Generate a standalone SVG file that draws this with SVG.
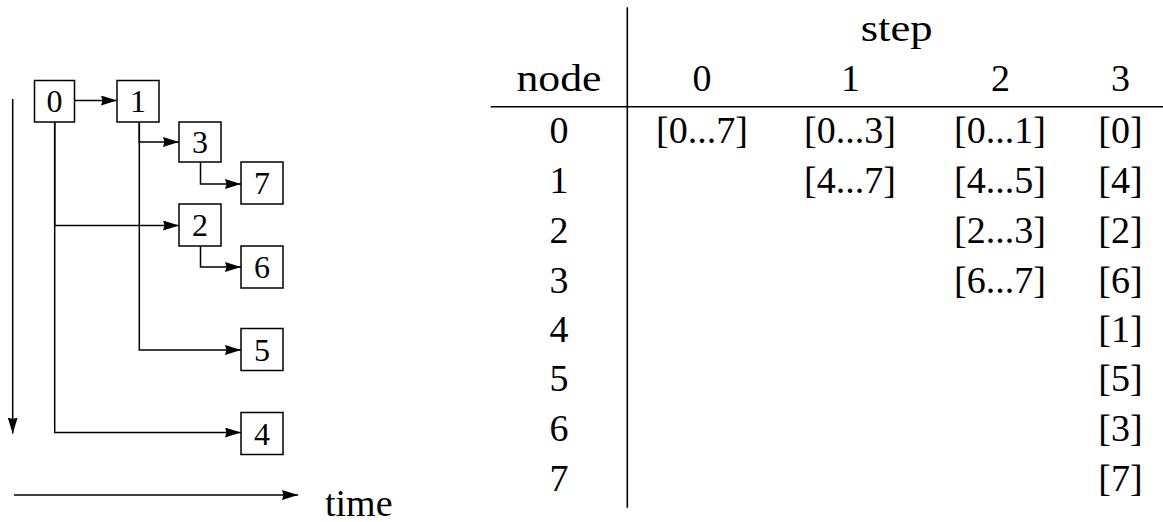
<svg xmlns="http://www.w3.org/2000/svg" width="1163" height="522" viewBox="0 0 1163 522">
<style>
.box{fill:#fff;stroke:#000;stroke-width:1.5}
.lbl{font-family:"Liberation Serif","Times New Roman",serif;font-size:32px;fill:#000;text-anchor:middle}
.conn{fill:none;stroke:#000;stroke-width:1.5}
.rule{stroke:#000;stroke-width:1.6;fill:none}
.t{font-family:"Liberation Serif","Times New Roman",serif;font-size:38px;fill:#000;text-anchor:middle}
</style>
<defs>
<marker id="ah" markerUnits="userSpaceOnUse" markerWidth="17" markerHeight="11" refX="16" refY="5" orient="auto">
<path d="M0,0 L16,5 L0,10 L1.5,5 z" fill="#000"/>
</marker>
</defs>
<g id="connectors">
<path class="conn" d="M74.5,100.5 H117" marker-end="url(#ah)"/>
<path class="conn" d="M139.3,122 V142 H179" marker-end="url(#ah)"/>
<path class="conn" d="M139.3,122 V350 H241" marker-end="url(#ah)"/>
<path class="conn" d="M200.5,162 V184 H241" marker-end="url(#ah)"/>
<path class="conn" d="M54.7,122 V225.5 H179" marker-end="url(#ah)"/>
<path class="conn" d="M54.7,122 V432.5 H241" marker-end="url(#ah)"/>
<path class="conn" d="M200.5,246 V267 H241" marker-end="url(#ah)"/>
</g>
<g id="axes">
<path class="conn" d="M12.7,99 V433.5" marker-end="url(#ah)"/>
<path class="conn" d="M14,495 H298" marker-end="url(#ah)"/>
<text x="325" y="515.5" class="t" style="text-anchor:start">time</text>
</g>
<g id="n0"><rect class="box" x="34.5" y="80.5" width="40" height="41.5"/><text class="lbl" x="54.5" y="111.5">0</text></g>
<g id="n1"><rect class="box" x="117" y="80.5" width="42" height="41.5"/><text class="lbl" x="138" y="111.5">1</text></g>
<g id="n3"><rect class="box" x="179" y="122" width="42" height="40"/><text class="lbl" x="200" y="152.5">3</text></g>
<g id="n7"><rect class="box" x="241" y="162" width="42" height="42"/><text class="lbl" x="262" y="194">7</text></g>
<g id="n2"><rect class="box" x="179" y="204" width="42" height="42"/><text class="lbl" x="200" y="236">2</text></g>
<g id="n6"><rect class="box" x="241" y="246" width="42" height="42"/><text class="lbl" x="262" y="278">6</text></g>
<g id="n5"><rect class="box" x="241" y="328.5" width="42" height="42"/><text class="lbl" x="262" y="360.5">5</text></g>
<g id="n4"><rect class="box" x="241" y="412.5" width="42" height="42"/><text class="lbl" x="262" y="444.5">4</text></g>
<g id="table">
<line class="rule" x1="627.3" y1="7.3" x2="627.3" y2="507.7"/>
<line class="rule" x1="490.7" y1="106.7" x2="1163" y2="106.7"/>
<text class="t" x="896.7" y="40.7" textLength="72" lengthAdjust="spacingAndGlyphs">step</text>
<text class="t" x="559" y="90.7" textLength="85" lengthAdjust="spacingAndGlyphs">node</text>
<text class="t" x="702" y="90.7">0</text>
<text class="t" x="850.5" y="90.7">1</text>
<text class="t" x="1000.5" y="90.7">2</text>
<text class="t" x="1120.5" y="90.7">3</text>
<text class="t" x="559" y="143.3">0</text>
<text class="t" x="559" y="193.3">1</text>
<text class="t" x="559" y="243.3">2</text>
<text class="t" x="559" y="292.7">3</text>
<text class="t" x="559" y="341.7">4</text>
<text class="t" x="559" y="391">5</text>
<text class="t" x="559" y="441">6</text>
<text class="t" x="559" y="491">7</text>
<text class="t" x="702" y="143.3">[0...7]</text>
<text class="t" x="850" y="143.3">[0...3]</text>
<text class="t" x="850" y="193.3">[4...7]</text>
<text class="t" x="1000" y="143.3">[0...1]</text>
<text class="t" x="1000" y="193.3">[4...5]</text>
<text class="t" x="1000" y="243.3">[2...3]</text>
<text class="t" x="1000" y="292.7">[6...7]</text>
<text class="t" x="1120.5" y="143.3">[0]</text>
<text class="t" x="1120.5" y="193.3">[4]</text>
<text class="t" x="1120.5" y="243.3">[2]</text>
<text class="t" x="1120.5" y="292.7">[6]</text>
<text class="t" x="1120.5" y="341.7">[1]</text>
<text class="t" x="1120.5" y="391">[5]</text>
<text class="t" x="1120.5" y="441">[3]</text>
<text class="t" x="1120.5" y="491">[7]</text>
</g>
</svg>
